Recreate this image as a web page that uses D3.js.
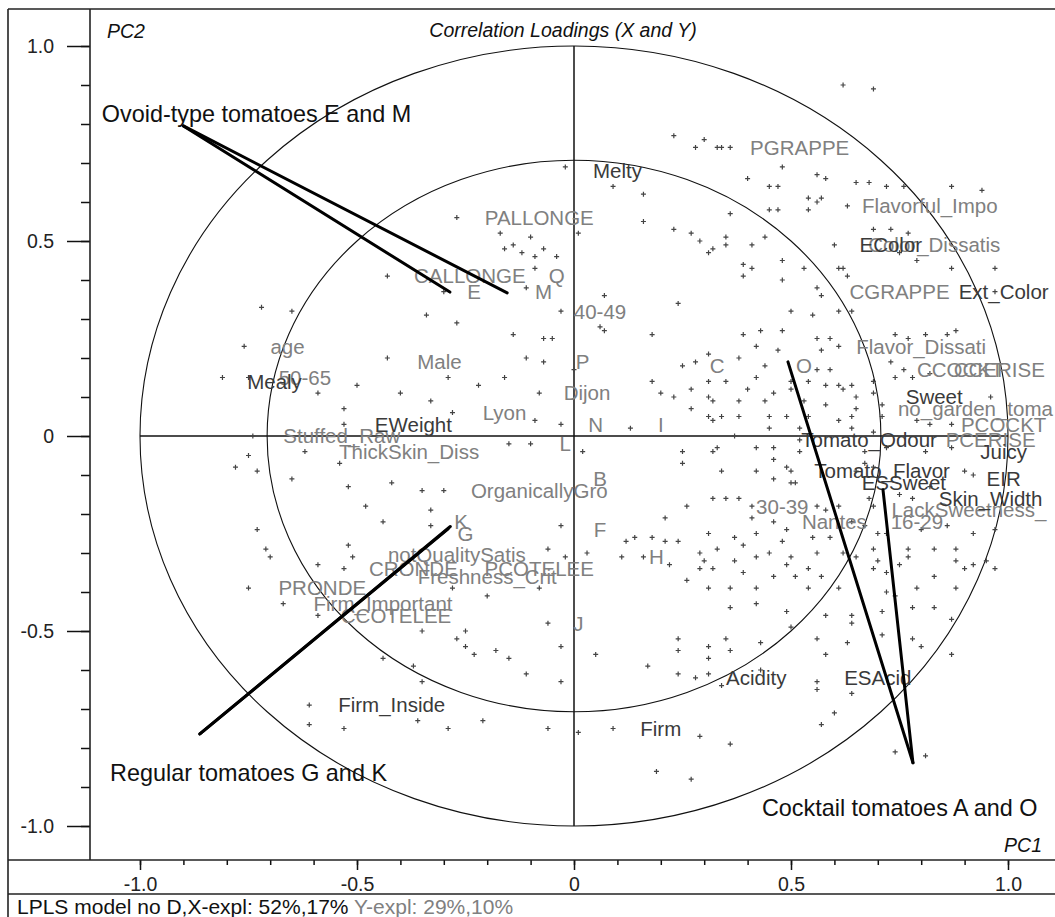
<!DOCTYPE html>
<html>
<head>
<meta charset="utf-8">
<script src="https://cdn.jsdelivr.net/npm/d3@7/dist/d3.min.js"></script>
<style>
  body { margin: 0; background: #fff; }
  svg { display: block; font-family: "Liberation Sans", Arial, sans-serif; }
</style>
</head>
<body>
<div id="chart"></div>
<script>
const W = 1055, H = 917;

// axis ticks
const majorTicks = [-1.0, -0.5, 0, 0.5, 1.0];
const minorTicks = [-1.0, -0.9, -0.8, -0.7, -0.6, -0.5, -0.4, -0.3, -0.2, -0.1, 0,
  0.1, 0.2, 0.3, 0.4, 0.5, 0.6, 0.7, 0.8, 0.9, 1.0];
const circleRadii = [1.0, 0.7071];

// X variables (sensory descriptors): [name, PC1, PC2]
const xVars = [
  ["Melty", 0.10, 0.68], ["Mealy", -0.69, 0.14], ["EWeight", -0.37, 0.03],
  ["EColor", 0.73, 0.49], ["Ext_Color", 0.99, 0.37], ["Sweet", 0.83, 0.10],
  ["Tomato_Odour", 0.68, -0.01], ["Juicy", 0.99, -0.04], ["Tomato_Flavor", 0.71, -0.09],
  ["ESSweet", 0.76, -0.12], ["EIR", 0.99, -0.11], ["Skin_Width", 0.96, -0.16],
  ["Acidity", 0.42, -0.62], ["ESAcid", 0.70, -0.62], ["Firm", 0.20, -0.75],
  ["Firm_Inside", -0.42, -0.69]
];

// Y / Z variables (preferences, consumer info, samples)
const yVars = [
  ["PGRAPPE", 0.52, 0.74], ["Flavorful_Impo", 0.82, 0.59], ["Color_Dissatis", 0.83, 0.49],
  ["CGRAPPE", 0.75, 0.37], ["PALLONGE", -0.08, 0.56], ["CALLONGE", -0.24, 0.41],
  ["Q", -0.04, 0.41], ["E", -0.23, 0.37], ["M", -0.07, 0.37], ["40-49", 0.06, 0.32],
  ["age", -0.66, 0.23], ["50-65", -0.62, 0.15], ["Male", -0.31, 0.19], ["P", 0.02, 0.19],
  ["Dijon", 0.03, 0.11], ["Lyon", -0.16, 0.06], ["N", 0.05, 0.03], ["I", 0.20, 0.03],
  ["L", -0.02, -0.02], ["Stuffed_Raw", -0.535, 0.00], ["ThickSkin_Diss", -0.38, -0.04],
  ["B", 0.06, -0.11], ["OrganicallyGro", -0.08, -0.14], ["K", -0.26, -0.22],
  ["G", -0.25, -0.25], ["F", 0.06, -0.24], ["H", 0.19, -0.31],
  ["notQualitySatis", -0.27, -0.305], ["CRONDE", -0.37, -0.34], ["PCOTELEE", -0.08, -0.34],
  ["Freshness_Crit", -0.20, -0.36], ["PRONDE", -0.58, -0.39], ["Firm_Important", -0.44, -0.43],
  ["CCOTELEE", -0.41, -0.46], ["J", 0.01, -0.48], ["C", 0.33, 0.18], ["O", 0.53, 0.18],
  ["Flavor_Dissati", 0.80, 0.23], ["CCOCKT", 0.89, 0.17], ["CCERISE", 0.98, 0.17],
  ["no_garden_toma", 0.925, 0.07], ["PCOCKT", 0.99, 0.03], ["PCERISE", 0.96, -0.01],
  ["30-39", 0.48, -0.18], ["Nantes", 0.60, -0.22], ["16-29", 0.79, -0.22],
  ["LackSweetness_", 0.91, -0.19]
];

// tomato groups: label, label anchor (PC1, PC2), line origin, sample ends
const groupNames = ["Ovoid-type tomatoes E and M", "Regular tomatoes G and K", "Cocktail tomatoes A and O"];
const groupLabelPos = [[-1.088, 0.828], [-1.069, -0.862], [0.433, -0.954]];
const groupOrigin = [[-0.90, 0.795], [-0.862, -0.764], [0.781, -0.838]];
const groupEnds = [
  [[-0.286, 0.369], [-0.154, 0.367]],
  [[-0.290, -0.238], [-0.285, -0.232]],
  [[0.493, 0.190], [0.712, -0.138]]
];

// consumer loadings (the small crosses)
const consumerPts = [
  [-0.02,0.69],[0.09,0.64],[0.16,0.62],[-0.27,0.56],[0.16,0.55],[0.23,0.53],[0.27,0.52],[0.29,0.50],
  [0.32,0.48],[0.31,0.47],[-0.17,0.52],[-0.16,0.48],[-0.14,0.49],[-0.12,0.47],[-0.10,0.51],[-0.07,0.48],
  [-0.09,0.46],[-0.04,0.46],[0.01,0.52],[-0.43,0.41],[-0.30,0.37],[-0.09,0.43],[-0.11,0.38],[0.07,0.36],
  [0.23,0.77],[0.28,0.74],[0.30,0.76],[0.33,0.74],
  [0.62,0.90],[0.69,0.89],[0.34,0.74],[0.36,0.74],[0.40,0.66],[0.48,0.69],[0.56,0.67],[0.58,0.66],
  [0.45,0.64],[0.47,0.64],[0.65,0.65],[0.68,0.65],[0.72,0.64],[0.76,0.64],[0.87,0.64],[0.94,0.63],
  [0.54,0.61],[0.56,0.60],[0.57,0.61],[0.54,0.58],[0.63,0.59],[0.36,0.57],[0.45,0.58],[0.47,0.58],
  [0.69,0.53],[0.73,0.53],[0.77,0.52],[0.35,0.51],[0.35,0.49],[0.44,0.51],[0.41,0.49],[0.60,0.49],
  [0.61,0.43],[0.62,0.43],[0.63,0.41],[0.53,0.43],[0.48,0.45],[0.39,0.44],[0.41,0.43],[0.39,0.41],
  [0.48,0.40],[0.56,0.38],[0.57,0.36],[0.87,0.43],[0.97,0.43],[0.75,0.47],[0.79,0.45],[0.97,0.37],
  [-0.34,0.31],[-0.27,0.29],[-0.14,0.26],[-0.07,0.25],[-0.05,0.25],[-0.03,0.32],[0.06,0.28],[0.07,0.27],
  [0.18,0.26],[0.24,0.34],[-0.43,0.20],[-0.11,0.20],[-0.07,0.19],[0.00,0.17],[-0.29,0.15],[-0.22,0.13],
  [-0.16,0.15],[-0.08,0.11],[-0.40,0.11],[-0.33,0.09],[-0.28,0.06],[-0.03,0.03],[-0.09,0.04],[0.13,0.02],
  [0.18,0.14],[0.20,0.11],[0.23,0.10],[0.27,0.12],[0.31,0.14],[0.31,0.10],[0.25,0.18],[0.28,0.19],
  [0.31,0.21],[0.27,0.07],[0.31,0.05],[0.32,0.04],[-0.15,-0.02],[-0.10,-0.02],[0.02,-0.04],[0.25,-0.04],
  [0.25,-0.07],[0.33,-0.03],[-0.42,-0.12],[-0.30,-0.14],[-0.35,-0.14],[-0.48,-0.18],[-0.44,-0.22],[-0.33,-0.19],
  [-0.33,-0.23],[-0.03,-0.23],[0.32,-0.16],[0.26,-0.18],[0.21,-0.21],[0.14,-0.26],[0.18,-0.26],[0.21,-0.27],
  [0.24,-0.27],[0.12,-0.27],[0.29,-0.30],[0.11,-0.31],[0.16,-0.31],[0.22,-0.33],[0.29,-0.34],[0.03,-0.30],
  [-0.06,-0.29],[-0.02,-0.31],[-0.08,-0.39],[-0.28,-0.39],[-0.20,-0.41],[0.31,-0.39],[0.26,-0.37],
  [-0.72,0.33],[-0.65,0.32],[-0.76,0.23],[-0.81,0.15],[-0.75,0.15],[-0.59,0.11],[-0.50,0.13],[-0.53,0.07],
  [-0.53,0.03],[-0.74,0.00],[-0.75,-0.05],[-0.78,-0.08],[-0.73,-0.09],[-0.65,-0.11],[-0.62,-0.04],[-0.54,-0.07],
  [-0.52,-0.13],[-0.73,-0.24],[-0.71,-0.29],[-0.70,-0.31],[-0.59,-0.33],[-0.52,-0.28],[-0.51,-0.31],[-0.53,-0.34],
  [-0.75,-0.39],
  [0.50,0.32],[0.55,0.31],[0.61,0.32],[0.64,0.32],[0.39,0.26],[0.43,0.27],[0.48,0.27],[0.56,0.25],
  [0.59,0.25],[0.74,0.26],[0.77,0.25],[0.81,0.26],[0.86,0.26],[0.88,0.27],[0.42,0.23],[0.47,0.22],
  [0.57,0.22],[0.61,0.23],[0.38,0.20],[0.44,0.18],[0.56,0.17],[0.59,0.17],[0.73,0.19],[0.76,0.17],
  [0.74,0.15],[0.78,0.15],[0.82,0.16],[0.35,0.14],[0.42,0.15],[0.50,0.14],[0.54,0.14],[0.58,0.13],
  [0.61,0.13],[0.64,0.13],[0.69,0.14],[0.40,0.12],[0.46,0.11],[0.50,0.12],[0.62,0.12],[0.65,0.10],
  [0.69,0.11],[0.96,0.10],[0.32,0.09],[0.38,0.09],[0.44,0.09],[0.53,0.09],[0.58,0.08],[0.65,0.07],
  [0.71,0.08],[0.34,0.05],[0.38,0.05],[0.45,0.05],[0.49,0.05],[0.54,0.05],[0.61,0.04],[0.64,0.05],
  [0.71,0.05],[0.79,0.04],[0.82,0.03],[0.87,0.03],[0.45,0.02],[0.52,0.02],[0.64,0.02],[0.69,0.01],
  [0.37,0.00],[0.52,-0.01],[0.32,-0.04],[0.42,-0.03],[0.46,-0.03],[0.52,-0.04],[0.67,-0.04],[0.72,-0.03],
  [0.81,-0.04],[0.87,-0.03],[0.46,-0.06],[0.49,-0.08],[0.67,-0.07],[0.69,-0.08],[0.34,-0.09],[0.42,-0.09],
  [0.46,-0.11],[0.50,-0.09],[0.65,-0.09],[0.90,-0.09],[0.92,-0.10],[0.50,-0.12],[0.51,-0.12],[0.75,-0.15],
  [0.78,-0.16],[0.82,-0.13],[0.35,-0.16],[0.38,-0.16],[0.41,-0.18],[0.68,-0.16],[0.69,-0.18],[0.56,-0.18],
  [0.58,-0.19],[0.61,-0.18],[0.41,-0.21],[0.46,-0.22],[0.49,-0.24],[0.64,-0.22],[0.67,-0.23],[0.70,-0.25],
  [0.72,-0.25],[0.80,-0.24],[0.86,-0.23],[0.92,-0.25],[0.97,-0.24],[0.31,-0.25],[0.37,-0.26],[0.42,-0.25],
  [0.48,-0.27],[0.55,-0.26],[0.59,-0.26],[0.33,-0.29],[0.39,-0.28],[0.45,-0.30],[0.50,-0.31],[0.56,-0.30],
  [0.62,-0.30],[0.69,-0.29],[0.77,-0.29],[0.83,-0.29],[0.88,-0.29],[0.30,-0.32],[0.37,-0.32],[0.42,-0.31],
  [0.49,-0.33],[0.54,-0.34],[0.65,-0.31],[0.70,-0.32],[0.75,-0.33],[0.77,-0.31],[0.88,-0.32],[0.92,-0.33],
  [0.95,-0.32],[0.32,-0.34],[0.39,-0.35],[0.46,-0.36],[0.51,-0.36],[0.57,-0.36],[0.69,-0.34],[0.72,-0.35],
  [0.83,-0.36],[0.90,-0.34],[0.97,-0.34],[0.36,-0.39],[0.42,-0.39],[0.54,-0.39],[0.61,-0.39],[0.72,-0.40],
  [0.74,-0.41],[0.79,-0.39],[0.88,-0.39],
  [0.36,-0.44],[0.42,-0.43],[0.49,-0.45],[0.58,-0.46],[0.64,-0.46],[0.64,-0.48],[0.71,-0.45],[0.78,-0.44],
  [0.83,-0.44],[0.87,-0.47],[0.35,-0.52],[0.43,-0.53],[0.50,-0.49],[0.56,-0.52],[0.58,-0.56],[0.63,-0.53],
  [0.71,-0.51],[0.78,-0.52],[0.80,-0.54],[0.87,-0.56],[0.36,-0.55],[0.31,-0.57],[0.31,-0.61],[0.34,-0.64],
  [0.43,-0.60],[0.56,-0.63],[0.56,-0.65],[0.64,-0.66],[0.60,-0.71],[0.57,-0.74],[0.29,-0.77],[0.36,-0.79],
  [0.74,-0.81],[0.81,-0.82],
  [-0.35,-0.50],[-0.25,-0.54],[-0.23,-0.56],[-0.18,-0.55],[-0.15,-0.57],[-0.44,-0.57],[-0.37,-0.59],[-0.35,-0.63],
  [-0.27,-0.52],[-0.25,-0.50],[-0.11,-0.61],[-0.06,-0.48],[-0.03,-0.54],[-0.03,-0.63],[0.05,-0.56],[0.17,-0.59],
  [0.24,-0.52],[0.24,-0.55],[0.24,-0.61],[0.28,-0.62],[0.31,-0.54],[-0.36,-0.73],[-0.29,-0.75],[-0.21,-0.73],
  [-0.06,-0.75],[0.01,-0.76],[0.09,-0.75],[0.19,-0.86],[0.27,-0.88],
  [-0.67,-0.43],[-0.59,-0.46],[-0.61,-0.69],[-0.61,-0.74],[-0.53,-0.75]
];

const footerX = "LPLS model no D,X-expl: 52%,17%";
const footerY = " Y-expl: 29%,10%";

const plotBox = { left: 90, top: 9, right: 1055, bottom: 860 };

const x = d3.scaleLinear().domain([-1, 1]).range([140, 1008]);
const y = d3.scaleLinear().domain([-1, 1]).range([826, 46]);

const svg = d3.select('#chart')
  .append('svg')
  .attr('width', W)
  .attr('height', H);

svg.append('rect').attr('width', W).attr('height', H).attr('fill', '#fff');

svg.append('clipPath').attr('id', 'plotClip')
  .append('rect')
  .attr('x', plotBox.left).attr('y', plotBox.top)
  .attr('width', plotBox.right - plotBox.left)
  .attr('height', plotBox.bottom - plotBox.top);

const plot = svg.append('g').attr('clip-path', 'url(#plotClip)');

// circles of 50% and 100% explained variance
plot.selectAll('ellipse')
  .data(circleRadii)
  .enter().append('ellipse')
  .attr('cx', x(0))
  .attr('cy', y(0))
  .attr('rx', d => x(d) - x(0))
  .attr('ry', d => y(0) - y(d))
  .attr('fill', 'none')
  .attr('stroke', '#111')
  .attr('stroke-width', 1.1);

// centre cross
plot.append('line')
  .attr('x1', x(-1)).attr('x2', x(1))
  .attr('y1', y(0)).attr('y2', y(0))
  .attr('stroke', '#111').attr('stroke-width', 1.5);
plot.append('line')
  .attr('x1', x(0)).attr('x2', x(0))
  .attr('y1', y(1)).attr('y2', y(-1))
  .attr('stroke', '#111').attr('stroke-width', 1.5);

// consumer crosses
plot.append('g')
  .selectAll('path')
  .data(consumerPts)
  .enter().append('path')
  .attr('d', d => `M${x(d[0]) - 2.5},${y(d[1])}h5M${x(d[0])},${y(d[1]) - 2.5}v5`)
  .attr('stroke', '#444')
  .attr('stroke-width', 1.2);

// variable labels
plot.append('g')
  .selectAll('text')
  .data(yVars)
  .enter().append('text')
  .attr('x', d => x(d[1]))
  .attr('y', d => y(d[2]))
  .attr('dy', '0.36em')
  .attr('text-anchor', 'middle')
  .attr('font-size', '20.5px')
  .attr('fill', '#808080')
  .text(d => d[0]);

plot.append('g')
  .selectAll('text')
  .data(xVars)
  .enter().append('text')
  .attr('x', d => x(d[1]))
  .attr('y', d => y(d[2]))
  .attr('dy', '0.36em')
  .attr('text-anchor', 'middle')
  .attr('font-size', '20.5px')
  .attr('fill', '#3a3a3a')
  .text(d => d[0]);

// group lines
groupOrigin.forEach((o, i) => {
  plot.append('g')
    .selectAll('line')
    .data(groupEnds[i])
    .enter().append('line')
    .attr('x1', x(o[0])).attr('y1', y(o[1]))
    .attr('x2', d => x(d[0])).attr('y2', d => y(d[1]))
    .attr('stroke', '#000')
    .attr('stroke-width', 3)
    .attr('stroke-linecap', 'round');
});

plot.append('g')
  .selectAll('text')
  .data(groupNames)
  .enter().append('text')
  .attr('x', (d, i) => x(groupLabelPos[i][0]))
  .attr('y', (d, i) => y(groupLabelPos[i][1]))
  .attr('dy', '0.36em')
  .attr('font-size', '23.4px')
  .attr('fill', '#111')
  .text(d => d);

// titles
svg.append('text')
  .attr('x', 563).attr('y', 37)
  .attr('text-anchor', 'middle')
  .attr('font-size', '19.5px')
  .attr('font-style', 'italic')
  .attr('fill', '#111')
  .text('Correlation Loadings (X and Y)');
svg.append('text')
  .attr('x', 107).attr('y', 38)
  .attr('font-size', '19.5px')
  .attr('font-style', 'italic')
  .attr('fill', '#111')
  .text('PC2');
svg.append('text')
  .attr('x', 1042).attr('y', 852)
  .attr('text-anchor', 'end')
  .attr('font-size', '19.5px')
  .attr('font-style', 'italic')
  .attr('fill', '#111')
  .text('PC1');

// axes
const fmt = d => d === 0 ? '0' : d.toFixed(1);

const yMinor = svg.append('g')
  .attr('transform', `translate(${plotBox.left},0)`)
  .call(d3.axisLeft(y).tickValues(minorTicks).tickSize(9).tickFormat(''));
const yMajor = svg.append('g')
  .attr('transform', `translate(${plotBox.left},0)`)
  .call(d3.axisLeft(y).tickValues(majorTicks).tickSize(23).tickPadding(13).tickFormat(fmt));
const xMinor = svg.append('g')
  .attr('transform', `translate(0,${plotBox.bottom})`)
  .call(d3.axisBottom(x).tickValues(minorTicks).tickSize(5).tickFormat(''));
const xMajor = svg.append('g')
  .attr('transform', `translate(0,${plotBox.bottom})`)
  .call(d3.axisBottom(x).tickValues(majorTicks).tickSize(10).tickFormat(fmt));

[yMinor, yMajor, xMinor, xMajor].forEach(a => {
  a.select('.domain').remove();
  a.selectAll('line').attr('stroke', '#111').attr('stroke-width', 1.5);
  a.selectAll('text')
    .attr('font-family', '"Liberation Sans", Arial, sans-serif')
    .attr('font-size', '19.5px')
    .attr('fill', '#222');
});
xMajor.selectAll('text').attr('y', 31).attr('dy', null);

// frame
const frame = [
  [8, 9, W, 9], [8, 9, 8, H], [plotBox.left, 9, plotBox.left, plotBox.bottom],
  [8, plotBox.bottom, W, plotBox.bottom], [8, 894, W, 894]
];
svg.append('g')
  .selectAll('line')
  .data(frame)
  .enter().append('line')
  .attr('x1', d => d[0]).attr('y1', d => d[1])
  .attr('x2', d => d[2]).attr('y2', d => d[3])
  .attr('stroke', '#222')
  .attr('stroke-width', 1.6);

// footer
const foot = svg.append('text')
  .attr('x', 17).attr('y', 914)
  .attr('font-size', '21px');
foot.append('tspan').attr('fill', '#111').text(footerX);
foot.append('tspan').attr('fill', '#808080').text(footerY);
</script>
</body>
</html>
